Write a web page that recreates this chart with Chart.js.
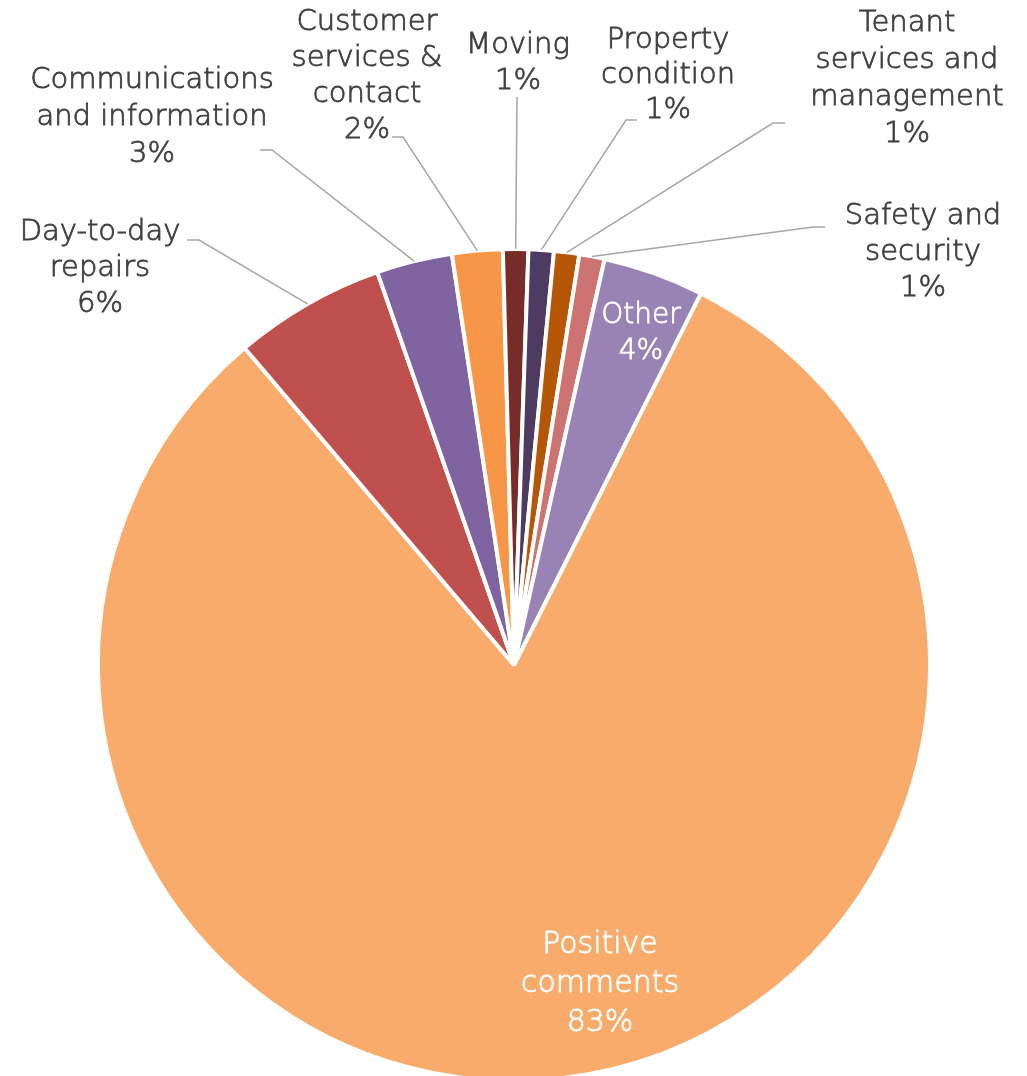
<!DOCTYPE html>
<html>
<head>
<meta charset="utf-8">
<script src="https://cdn.jsdelivr.net/npm/chart.js@4/dist/chart.umd.min.js"></script>
<style>
  html, body { margin: 0; padding: 0; background: #fff; overflow: hidden; }
  #wrap { width: 1027px; height: 1080px; position: relative; }
</style>
</head>
<body>
<div id="wrap"><canvas id="pie"></canvas></div>
<script>
// data, clockwise from the first slice
const categories = [
    'Positive\ncomments',
    'Day-to-day\nrepairs',
    'Communications\nand information',
    'Customer\nservices &\ncontact',
    'Moving',
    'Property\ncondition',
    'Tenant\nservices and\nmanagement',
    'Safety and\nsecurity',
    'Other'
];
const percents = [83, 6, 3, 2, 1, 1, 1, 1, 4];
const colors = ['#F8AB6B', '#C0504D', '#8064A2', '#F79646', '#772C2A', '#4D3B62', '#B65708', '#CD7371', '#9983B5'];

const TEXT_COLOR = '#404040';
const LEADER_COLOR = '#A6A6A6';

// label placement, same order as categories (text centre x, first line y, line height, font size, leader bend points)
const labelLayout = [
    { inside: true, x: 600, y: 945, lh: 39, size: 30 },
    { x: 100, y: 232, lh: 36, size: 29, bend: [[199, 240], [187, 240]] },
    { x: 152, y: 80, lh: 37, size: 29, bend: [[272, 150], [260, 150]] },
    { x: 367, y: 22, lh: 36, size: 29, bend: [[403, 137], [392, 137]] },
    { x: 518, y: 45, lh: 36, size: 29, bend: [[517, 97]] },
    { x: 668, y: 40, lh: 35, size: 29, bend: [[626, 120], [637, 120]] },
    { x: 907, y: 23, lh: 37, size: 29, bend: [[773, 123], [785, 123]] },
    { x: 923, y: 216, lh: 36, size: 29, bend: [[813, 227], [825, 227]] },
    { inside: true, x: 641, y: 316, lh: 36, size: 28 }
];

const sliceLabels = {
    id: 'sliceLabels',
    afterDatasetsDraw(chart) {
        const ctx = chart.ctx;
        const arcs = chart.getDatasetMeta(0).data;
        ctx.save();
        ctx.textAlign = 'center';
        ctx.textBaseline = 'middle';
        arcs.forEach((arc, i) => {
            const lay = labelLayout[i];
            const lines = categories[i].split('\n').concat([percents[i] + '%']);
            if (!lay.inside) {
                // leader line from the middle of the slice edge
                const mid = (arc.startAngle + arc.endAngle) / 2;
                const ax = arc.x + Math.cos(mid) * arc.outerRadius;
                const ay = arc.y + Math.sin(mid) * arc.outerRadius;
                ctx.beginPath();
                ctx.moveTo(ax, ay);
                lay.bend.forEach(p => ctx.lineTo(p[0], p[1]));
                ctx.strokeStyle = LEADER_COLOR;
                ctx.lineWidth = 1.5;
                ctx.stroke();
            }
            // thin font plus a light outline, closer to the original stroke weight
            const c = lay.inside ? '#ffffff' : TEXT_COLOR;
            ctx.font = `200 ${lay.size}px 'DejaVu Sans'`;
            ctx.fillStyle = c;
            ctx.strokeStyle = c;
            ctx.lineWidth = 0.8;
            lines.forEach((t, k) => {
                ctx.fillText(t, lay.x, lay.y + k * lay.lh);
                ctx.strokeText(t, lay.x, lay.y + k * lay.lh);
            });
        });
        ctx.restore();
    }
};

new Chart(document.getElementById('pie'), {
    type: 'pie',
    data: {
        labels: categories,
        datasets: [{
            data: percents,
            backgroundColor: colors,
            borderColor: '#ffffff',
            borderWidth: 4,
            clip: false
        }]
    },
    options: {
        responsive: true,
        maintainAspectRatio: false,
        animation: false,
        rotation: 26.7,
        radius: 416,
        layout: { padding: { left: 100, right: 99, top: 250, bottom: 0 } },
        plugins: {
            legend: { display: false },
            tooltip: { enabled: false }
        }
    },
    plugins: [sliceLabels]
});
</script>
</body>
</html>
